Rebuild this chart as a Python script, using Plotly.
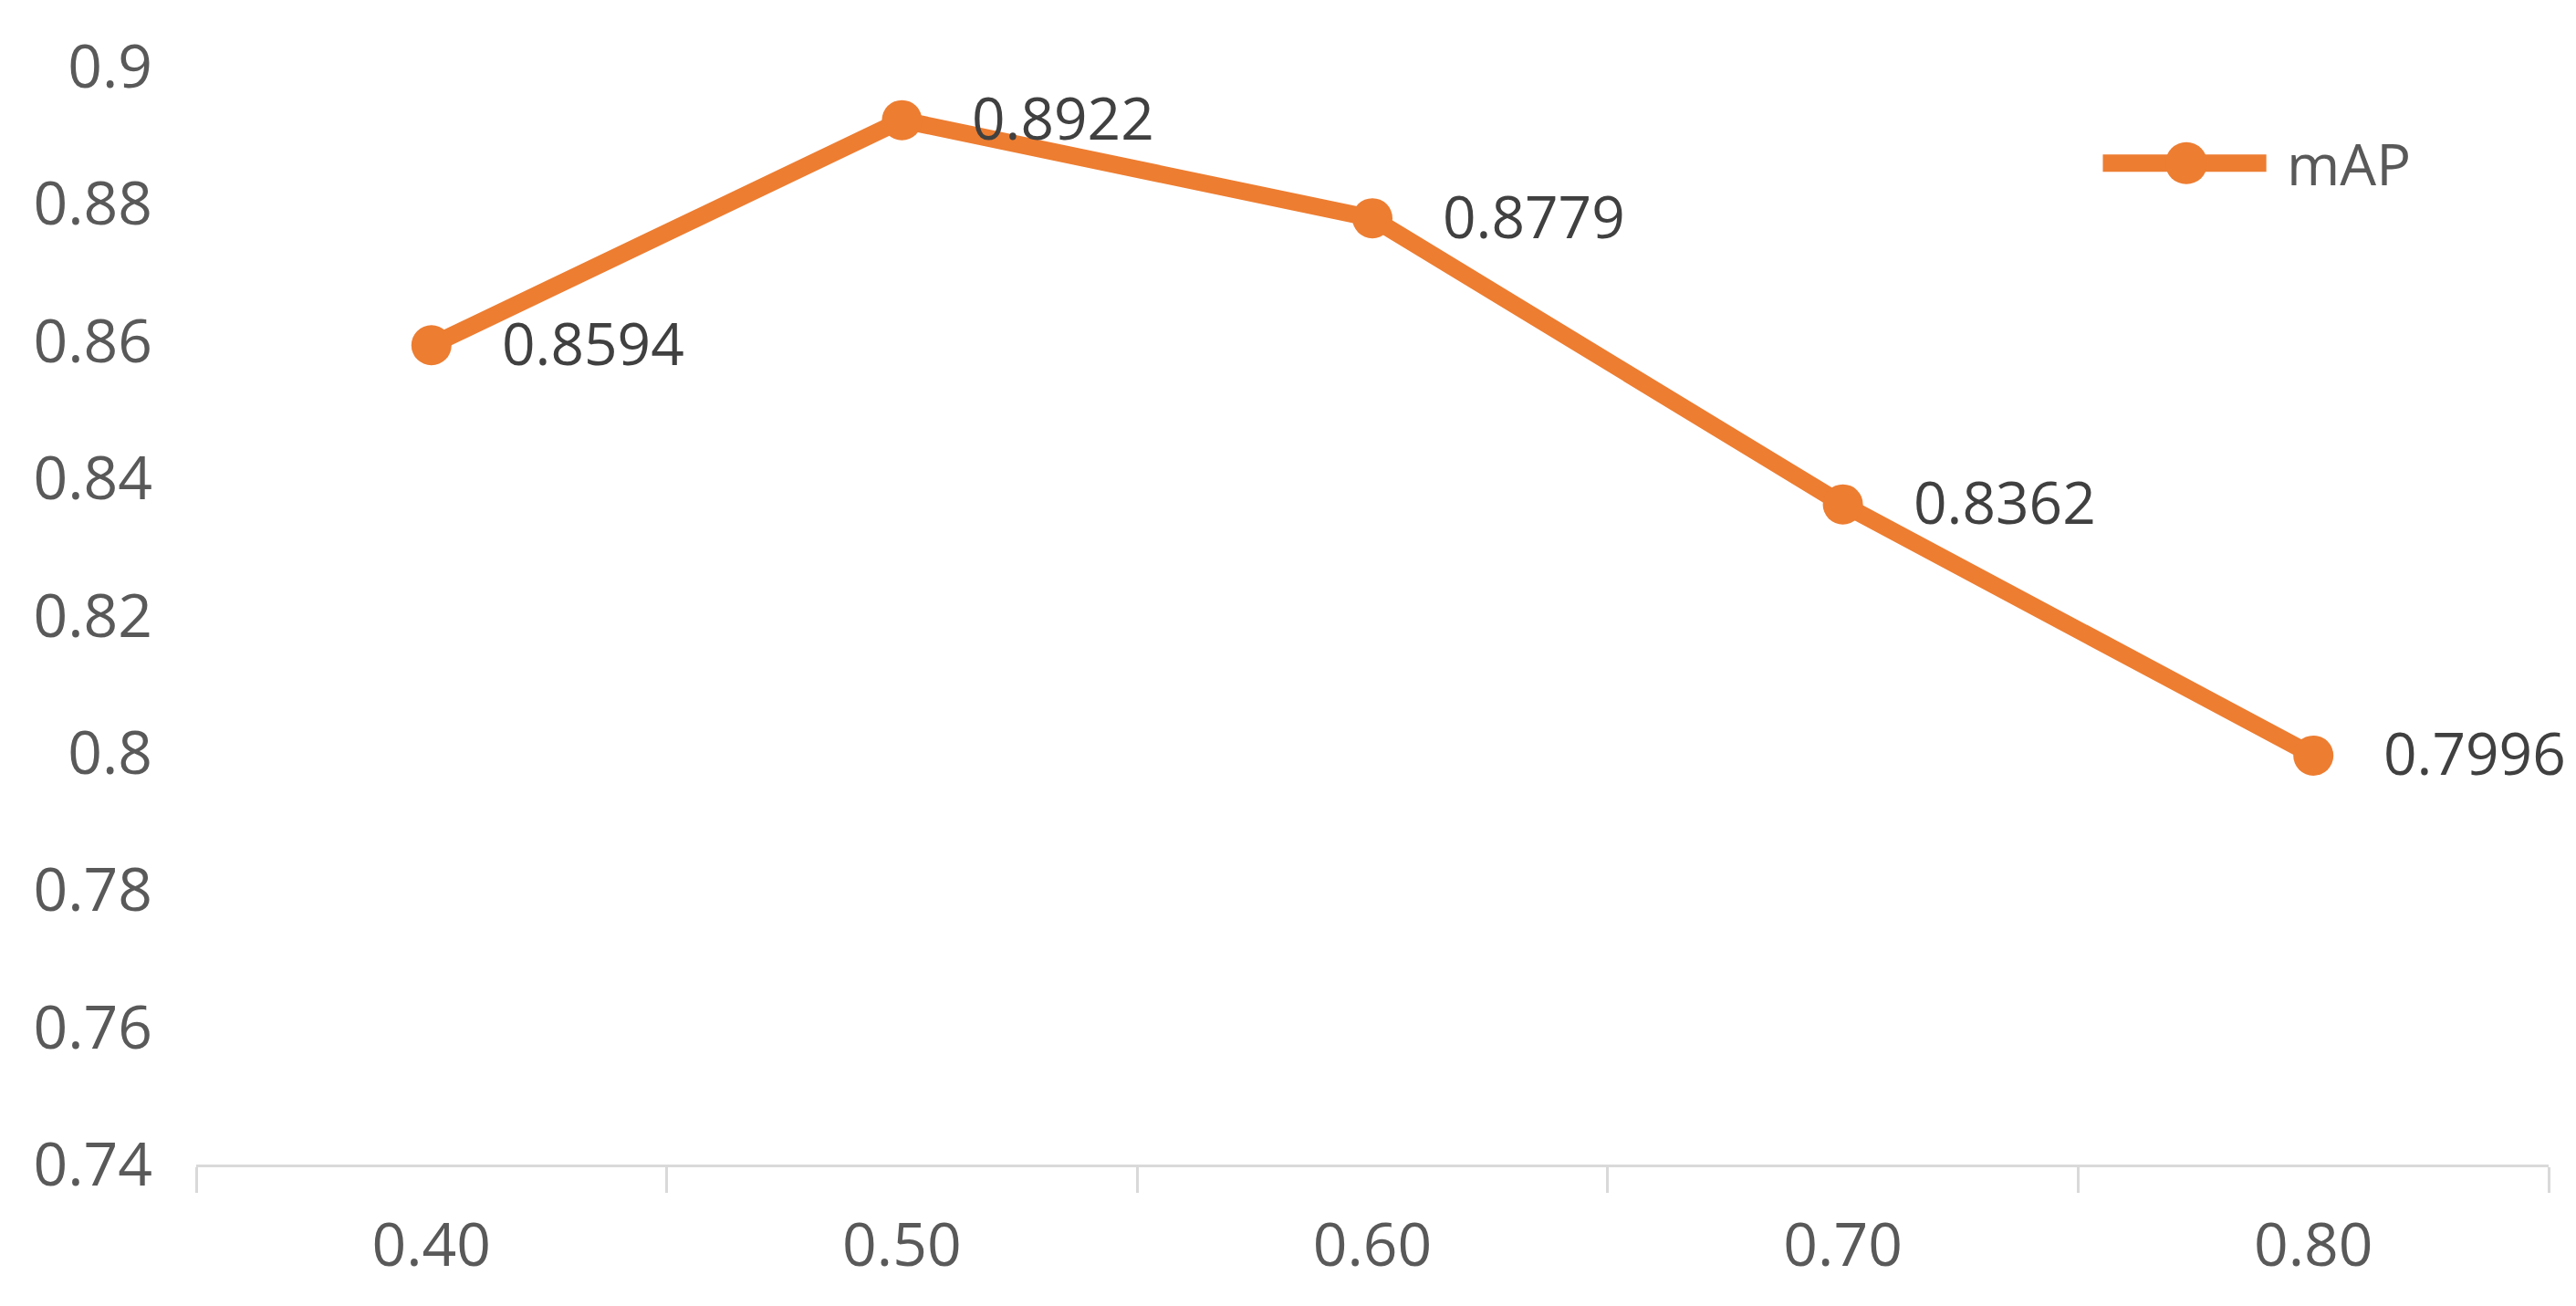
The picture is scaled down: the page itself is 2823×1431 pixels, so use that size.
import plotly.graph_objects as go

categories = ["0.40", "0.50", "0.60", "0.70", "0.80"]
map_values = [0.8594, 0.8922, 0.8779, 0.8362, 0.7996]
label_texts = ["0.8594", "0.8922", "0.8779", "0.8362", "0.7996"]
y_ticks = [0.74, 0.76, 0.78, 0.8, 0.82, 0.84, 0.86, 0.88, 0.9]
y_tick_labels = ["0.74", "0.76", "0.78", "0.8", "0.82", "0.84", "0.86", "0.88", "0.9"]
series_name = "mAP"

ORANGE = "#ED7D31"
TICK_GREY = "#595959"
LABEL_GREY = "#404040"
AXIS_GREY = "#D9D9D9"
FONT = "Open Sans"

M_L, M_R, M_T, M_B = 207, 38, 65, 163
PLOT_W = 2823 - M_L - M_R
PLOT_H = 1431 - M_T - M_B

fig = go.Figure()
fig.add_trace(go.Scatter(
    x=categories, y=map_values, mode="lines+markers", name=series_name,
    line=dict(color=ORANGE, width=19),
    marker=dict(color=ORANGE, size=44),
    showlegend=False,
))

for i, (v, t) in enumerate(zip(map_values, label_texts)):
    fig.add_annotation(x=i, y=v, text=t, showarrow=False, xanchor="left",
                       yanchor="middle", xshift=75, yshift=3,
                       font=dict(family=FONT, size=64, color=LABEL_GREY))

# custom legend (decoration)
LEG_Y = 0.9120
LEG_MX = 0.8460
fig.add_shape(type="line", xref="paper", yref="paper", x0=0.8105, x1=0.8800,
              y0=LEG_Y, y1=LEG_Y, line=dict(color=ORANGE, width=19))
fig.add_shape(type="circle", xref="paper", yref="paper",
              x0=LEG_MX - 23/PLOT_W, x1=LEG_MX + 23/PLOT_W,
              y0=LEG_Y - 23/PLOT_H, y1=LEG_Y + 23/PLOT_H,
              fillcolor=ORANGE, line=dict(color=ORANGE, width=0))
fig.add_annotation(x=0.8880, y=LEG_Y, xref="paper", yref="paper", text=series_name,
                   showarrow=False, xanchor="left", yanchor="middle",
                   font=dict(family=FONT, size=63, color=TICK_GREY))

fig.update_layout(
    width=2823, height=1431,
    margin=dict(l=M_L, r=M_R, t=M_T, b=M_B, pad=0),
    paper_bgcolor="white", plot_bgcolor="white",
    font=dict(family=FONT, size=66, color=TICK_GREY),
    xaxis=dict(
        type="category", range=[-0.5, 4.5], showgrid=False, zeroline=False,
        showline=True, linecolor=AXIS_GREY, linewidth=3,
        ticks="outside", tickson="boundaries", ticklen=28, tickwidth=3,
        tickcolor=AXIS_GREY, tickfont=dict(family=FONT, size=66, color=TICK_GREY),
        ticklabelstandoff=29,
    ),
    yaxis=dict(
        range=[0.74, 0.9], tickmode="array", tickvals=y_ticks, ticktext=y_tick_labels,
        showgrid=False, zeroline=False, showline=False, ticks="",
        tickfont=dict(family=FONT, size=66, color=TICK_GREY),
        ticklabelstandoff=47,
    ),
)

fig.write_html("out.html")
